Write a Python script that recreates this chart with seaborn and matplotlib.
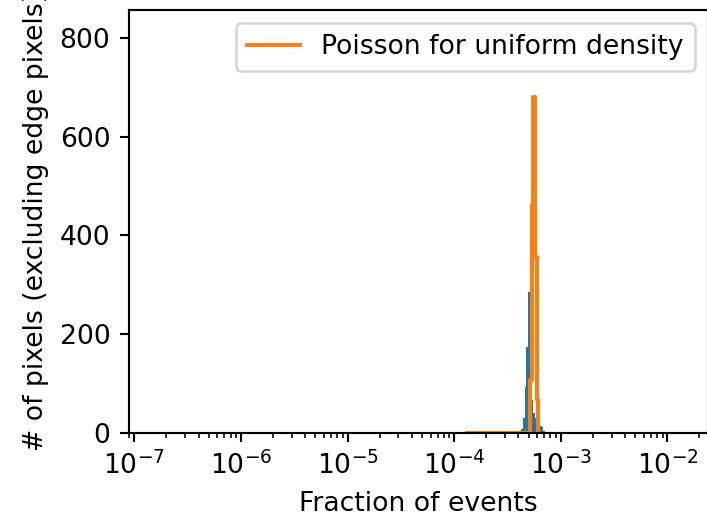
import numpy as np
import pandas as pd
import matplotlib
matplotlib.use("Agg")
import matplotlib.pyplot as plt
import seaborn as sns

# ---- data ----
# per-pixel event fraction histogram (log bins between bin_lo and bin_hi)
bin_lo = 1.271e-4
bin_hi = 7.97e-4
pixel_counts = [2, 1] + [0] * 31 + [8, 30, 93, 174, 285, 220, 66, 40, 30,
                                     20, 26, 15, 12, 5, 3, 3, 1]

# Poisson expectation for a uniform density (drawn as a step line)
poisson_x = [1.3155e-4, 5.152e-4, 5.316e-4, 5.433e-4, 5.721e-4, 6.013e-4, 6.138e-4]
poisson_y = [0, 107, 462, 680, 356, 67, 0]

x_label = "Fraction of events"
y_label = "# of pixels (excluding edge pixels)"
legend_label = "Poisson for uniform density"

# ---- figure ----
DPI = 192
fig = plt.figure(figsize=(707 / DPI, 517 / DPI), dpi=DPI)
ax = fig.add_axes([129 / 707, 84 / 517, 579 / 707, 423 / 517])

log_edges = np.linspace(np.log10(bin_lo), np.log10(bin_hi), len(pixel_counts) + 1)
hist_df = pd.DataFrame({
    "frac": 10 ** ((log_edges[:-1] + log_edges[1:]) / 2),
    "n": pixel_counts,
})

sns.histplot(data=hist_df, x="frac", weights="n", bins=list(log_edges),
             log_scale=True, color="#1f77b4", alpha=1, linewidth=0,
             element="bars", ax=ax)

sns.lineplot(x=poisson_x, y=poisson_y, drawstyle="steps-post", color="#ff7f0e",
             linewidth=1.5, label=legend_label, ax=ax)

ax.set_xlim(10 ** -7.05, 10 ** -1.619)
ax.set_ylim(0, 856)
ax.set_yticks([0, 200, 400, 600, 800])
ax.set_xlabel(x_label)
ax.set_ylabel(y_label)
ax.legend(loc="upper right")

fig.savefig("out.png", dpi=DPI)
